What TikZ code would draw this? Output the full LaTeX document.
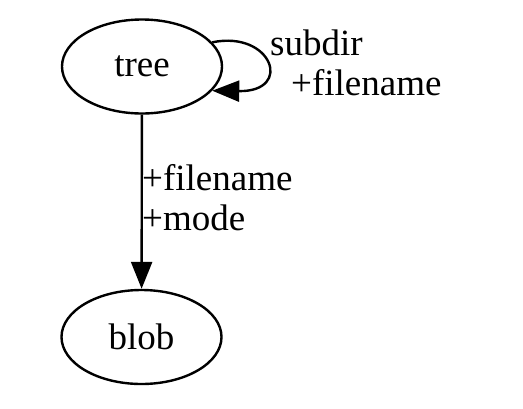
\documentclass[tikz,border=0pt]{standalone}
\usepackage{fontspec}
\setmainfont{Liberation Serif}
\usetikzlibrary{arrows.meta,shapes.geometric}
\begin{document}
\begin{tikzpicture}[x=1pt,y=-1pt,
  every node/.style={font=\fontsize{37}{44}\selectfont},
  gnode/.style={draw, ellipse, line width=2.4pt, minimum width=160pt, minimum height=94pt, inner sep=0pt},
  elabel/.style={anchor=base west, inner sep=0pt},
  conn/.style={line width=2.4pt, -{Triangle[length=27pt,width=21pt]}}]
\useasboundingbox (0,0) rectangle (523,408);
\node[gnode] (tree) at (142,66.5) {tree};
\node[gnode] (blob) at (141.5,337) {blob};
\draw[conn] (tree) -- (blob);
\draw[conn] (tree.19) .. controls (272,30) and (294,92) .. (tree.-19);
\node[elabel] (l1) at (270,55) {subdir};
\node[elabel] (l2) at (291,95) {+filename};
\node[elabel] (l3) at (142,190) {+filename};
\node[elabel] (l4) at (142,230) {+mode};
\end{tikzpicture}
\end{document}
